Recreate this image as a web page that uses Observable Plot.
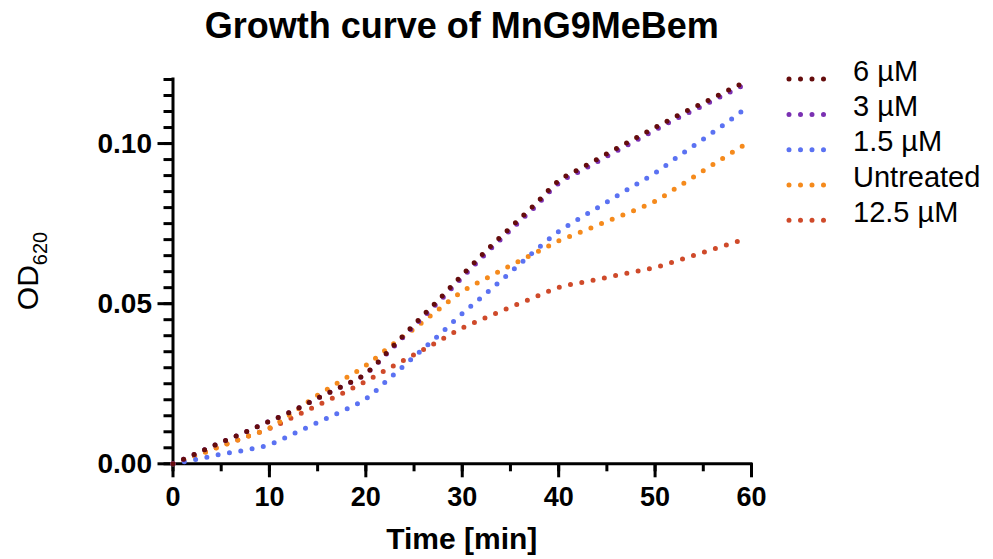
<!DOCTYPE html>
<html>
<head>
<meta charset="utf-8">
<script src="https://cdn.jsdelivr.net/npm/d3@7"></script>
<script src="https://cdn.jsdelivr.net/npm/@observablehq/plot@0.6"></script>
<style>
  html, body { margin: 0; padding: 0; background: #fff; }
  #chart { width: 993px; height: 559px; }
</style>
</head>
<body>
<div id="chart"></div>
<script>
// ---- data ----
const times = [0, 2.5, 5, 7.5, 10, 12.5, 15, 17.5, 20, 22.5, 25, 27.5, 30, 32.5, 35, 37.5, 40, 42.5, 45, 47.5, 50, 52.5, 55, 57.5, 59.5];

const od_6uM = [0, 0.0033, 0.0067, 0.0099, 0.0133, 0.0166, 0.0205, 0.0241, 0.0282, 0.0357, 0.0435, 0.0511, 0.0590, 0.0666, 0.0738, 0.0809, 0.0884, 0.0926, 0.0968, 0.1009, 0.1050, 0.1090, 0.1127, 0.1165, 0.1194];
const od_3uM = [0, 0.0033, 0.0067, 0.0099, 0.0133, 0.0166, 0.0205, 0.0241, 0.0281, 0.0354, 0.0430, 0.0504, 0.0582, 0.0658, 0.0730, 0.0801, 0.0876, 0.0918, 0.0960, 0.1001, 0.1042, 0.1082, 0.1119, 0.1157, 0.1187];
const od_1_5uM = [0, 0.0014, 0.0030, 0.0043, 0.0060, 0.0094, 0.0129, 0.0164, 0.0203, 0.0268, 0.0334, 0.0400, 0.0469, 0.0533, 0.0598, 0.0664, 0.0725, 0.0772, 0.0817, 0.0863, 0.0908, 0.0962, 0.1014, 0.1067, 0.1112];
const od_untreated = [0, 0.0026, 0.0055, 0.0083, 0.0112, 0.0161, 0.0214, 0.0260, 0.0307, 0.0366, 0.0422, 0.0481, 0.0538, 0.0579, 0.0619, 0.0657, 0.0696, 0.0726, 0.0757, 0.0787, 0.0820, 0.0867, 0.0915, 0.0963, 0.1000];
const od_12_5uM = [0, 0.0028, 0.0056, 0.0083, 0.0110, 0.0146, 0.0183, 0.0219, 0.0258, 0.0300, 0.0341, 0.0382, 0.0424, 0.0457, 0.0489, 0.0520, 0.0551, 0.0567, 0.0582, 0.0598, 0.0613, 0.0636, 0.0660, 0.0684, 0.0703];

const seriesNames = ["6 µM", "3 µM", "1.5 µM", "Untreated", "12.5 µM"];
const seriesColors = ["#650c0c", "#7a30b2", "#5b72f2", "#f58a1c", "#cf4a2a"];
const seriesValues = [od_6uM, od_3uM, od_1_5uM, od_untreated, od_12_5uM];

const xMajorTicks = [0, 10, 20, 30, 40, 50, 60];
const xMinorTicks = [0, 5, 10, 15, 20, 25, 30, 35, 40, 45, 50, 55, 60];
const yMajorTicks = [0, 0.05, 0.10];
const yMinorTicks = [0, 0.005, 0.01, 0.015, 0.02, 0.025, 0.03, 0.035, 0.04, 0.045, 0.05, 0.055, 0.06, 0.065, 0.07, 0.075, 0.08, 0.085, 0.09, 0.095, 0.10, 0.105, 0.11, 0.115, 0.12];

const titleText = "Growth curve of MnG9MeBem";
const xLabel = "Time [min]";

// long table, drawn back to front (last legend entry at the back)
const table = [];
for (let s = seriesNames.length - 1; s >= 0; s--) {
  times.forEach((t, i) => table.push({series: seriesNames[s], time: t, od: seriesValues[s][i]}));
}

const FONT = "'Liberation Sans', Arial, Helvetica, sans-serif";
const dotted = {strokeWidth: 5, strokeDasharray: "0,11.5", strokeLinecap: "round"};

const chart = Plot.plot({
  width: 993,
  height: 559,
  marginLeft: 172.5,
  marginRight: 242,
  marginTop: 79,
  marginBottom: 95.7,
  style: {fontFamily: FONT, color: "black", background: "white", overflow: "visible"},
  x: {domain: [0, 60]},
  y: {domain: [0, 0.12]},
  color: {domain: seriesNames, range: seriesColors},
  marks: [
    Plot.axisY({ticks: yMinorTicks, tickSize: 9, strokeWidth: 3, tickFormat: () => "", label: null}),
    Plot.axisY({ticks: yMajorTicks, tickSize: 15, tickPadding: 6, strokeWidth: 3, tickFormat: d3.format(".2f"),
      fontSize: 28, fontWeight: "bold", label: null}),
    Plot.axisX({ticks: xMinorTicks, tickSize: 8, strokeWidth: 3, tickFormat: () => "", label: null}),
    Plot.axisX({ticks: xMajorTicks, tickSize: 14, tickPadding: 9, strokeWidth: 3, tickFormat: d3.format("d"),
      fontSize: 27, fontWeight: "bold", label: null}),
    Plot.ruleX([0], {strokeWidth: 3, strokeLinecap: "square"}),
    Plot.ruleY([0], {strokeWidth: 3, strokeLinecap: "square"}),
    Plot.line(table, {x: "time", y: "od", z: "series", stroke: "series", curve: "monotone-x", ...dotted})
  ]
});

document.getElementById("chart").appendChild(chart);

// ---- titles, y label with subscript and legend ----
const svg = d3.select(chart);
const cx = (172.5 + 751) / 2;

svg.append("text")
  .attr("x", cx).attr("y", 38)
  .attr("text-anchor", "middle")
  .attr("font-family", FONT).attr("font-size", 36).attr("font-weight", "bold")
  .attr("fill", "black")
  .text(titleText);

svg.append("text")
  .attr("x", cx).attr("y", 549)
  .attr("text-anchor", "middle")
  .attr("font-family", FONT).attr("font-size", 30).attr("font-weight", "bold")
  .attr("fill", "black")
  .text(xLabel);

const yl = svg.append("text")
  .attr("transform", "translate(38,271) rotate(-90)")
  .attr("text-anchor", "middle")
  .attr("font-family", FONT).attr("fill", "black");
yl.append("tspan").attr("font-size", 30).text("OD");
yl.append("tspan").attr("font-size", 20).attr("dy", 9).text("620");

const legend = svg.append("g").attr("text-anchor", "start");
seriesNames.forEach((name, i) => {
  const by = 80.6 + i * 35.3;
  legend.append("line")
    .attr("x1", 789).attr("x2", 824.5)
    .attr("y1", by - 1.5).attr("y2", by - 1.5)
    .attr("stroke", seriesColors[i])
    .attr("stroke-width", 5)
    .attr("stroke-dasharray", "0,11.5")
    .attr("stroke-linecap", "round");
  legend.append("text")
    .attr("x", 853).attr("y", by)
    .attr("text-anchor", "start")
    .attr("font-family", FONT).attr("font-size", 29)
    .attr("fill", "black")
    .text(name);
});
</script>
</body>
</html>
